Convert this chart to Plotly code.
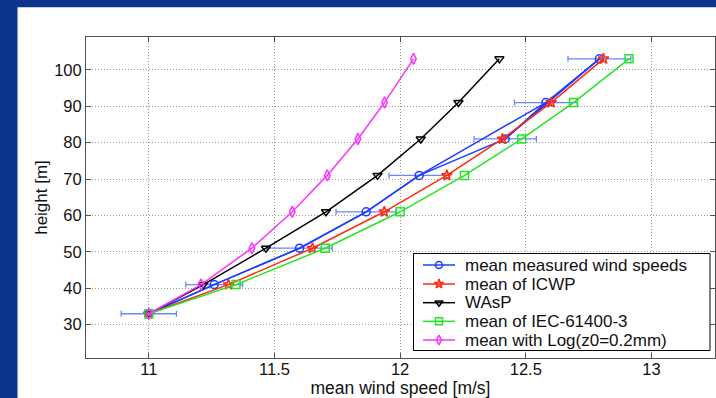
import plotly.graph_objects as go

heights = [33, 41, 51, 61, 71, 81, 91, 103]
measured = [11.00, 11.26, 11.60, 11.865, 12.076, 12.418, 12.58, 12.793]
measured_err = [0.11, 0.113, 0.13, 0.12, 0.12, 0.124, 0.125, 0.125]
# order in which the error-bar series was drawn (its connecting line)
errbar_order = [0, 1, 2, 3, 4, 6, 5, 7]
icwp = [11.00, 11.317, 11.651, 11.937, 12.186, 12.407, 12.601, 12.809]
wasp = [11.00, 11.217, 11.466, 11.705, 11.91, 12.082, 12.232, 12.395]
iec = [11.00, 11.347, 11.702, 12.00, 12.256, 12.484, 12.69, 12.911]
logz0 = [11.00, 11.208, 11.41, 11.571, 11.71, 11.832, 11.938, 12.053]

series_names = ["mean measured wind speeds", "mean of ICWP", "WAsP",
                "mean of IEC-61400-3", "mean with Log(z0=0.2mm)"]

x_ticks = [11, 11.5, 12, 12.5, 13]
x_ticklabels = ["11", "11.5", "12", "12.5", "13"]
y_ticks = [30, 40, 50, 60, 70, 80, 90, 100]

W, H = 716, 398
L, R, T, B = 86, 1, 37, 40
pw, ph = W - L - R, H - T - B

FONT = "Liberation Sans, Arial, sans-serif"
fig = go.Figure()

BLUE = "#1f3dff"
fig.add_trace(go.Scatter(
    x=[measured[i] for i in errbar_order],
    y=[heights[i] for i in errbar_order],
    mode="lines",
    line=dict(color=BLUE, width=1.5),
    error_x=dict(type="data", array=[measured_err[i] for i in errbar_order],
                 color="#6a86ff", thickness=1.3, width=3),
    showlegend=False, hoverinfo="skip"))

styles = [
    (measured, BLUE, "circle-open"),
    (icwp, "#ff2a10", "star-open"),
    (wasp, "#000000", "triangle-down-open"),
    (iec, "#22e622", "square-open"),
    (logz0, "#ff33ff", "diamond-tall-open"),
]
for name, (xs, col, sym) in zip(series_names, styles):
    fig.add_trace(go.Scatter(
        x=xs, y=heights, mode="lines+markers", name=name,
        line=dict(color=col, width=1.5),
        marker=dict(symbol=sym, size=8, color=col, line=dict(color=col, width=1.5)),
        showlegend=False,
    ))

# ---- manual legend on a pixel-coordinate overlay axis ----
lx0, lx1, ly0, ly1 = 413.5, 710, 253.5, 350.5
row_y = [265, 284, 302.7, 321.3, 340]
fig.add_trace(go.Scatter(
    x=[lx0, lx1, lx1, lx0, lx0], y=[ly0, ly0, ly1, ly1, ly0],
    xaxis="x2", yaxis="y2", mode="lines", fill="toself", fillcolor="white",
    line=dict(color="#000000", width=1), showlegend=False, hoverinfo="skip"))
for (xs, col, sym), ry, name in zip(styles, row_y, series_names):
    fig.add_trace(go.Scatter(
        x=[423, 455], y=[ry, ry], xaxis="x2", yaxis="y2", mode="lines",
        line=dict(color=col, width=1.5), showlegend=False, hoverinfo="skip"))
    fig.add_trace(go.Scatter(
        x=[439], y=[ry], xaxis="x2", yaxis="y2", mode="markers",
        marker=dict(symbol=sym, size=7, color=col, line=dict(color=col, width=1.5)),
        showlegend=False, hoverinfo="skip"))
    fig.add_annotation(x=464, y=ry, xref="x2", yref="y2", text=name, showarrow=False,
                       xanchor="left", yanchor="middle", borderpad=0,
                       font=dict(family=FONT, size=17, color="#111111"))

def px2paper_x(px):
    return (px - L) / pw

def px2paper_y(py):
    return (H - B - py) / ph

fig.add_shape(type="rect", xref="paper", yref="paper",
              x0=px2paper_x(17.5), x1=px2paper_x(W + 20),
              y0=px2paper_y(H + 20), y1=px2paper_y(7.3),
              fillcolor="white", line=dict(width=0), layer="below")

axis_common = dict(
    showgrid=True, gridcolor="#9a9a9a", griddash="1px,2px", gridwidth=1,
    showline=True, linecolor="#505050", linewidth=1, mirror="allticks",
    ticks="inside", ticklen=5, tickcolor="#505050", zeroline=False,
    tickfont=dict(family=FONT, size=16.5, color="#111111"),
)

fig.update_layout(
    width=W, height=H,
    margin=dict(l=L, r=R, t=T, b=B, pad=0),
    paper_bgcolor="#0d358f", plot_bgcolor="white",
    font=dict(family=FONT, color="#111111"),
    xaxis=dict(range=[10.75, 13.253], tickvals=x_ticks, ticktext=x_ticklabels,
               title=dict(text="mean wind speed [m/s]", font=dict(family=FONT, size=17.5), standoff=14),
               automargin=False, ticklabelstandoff=-4, **axis_common),
    yaxis=dict(range=[20.85, 109.0], tickvals=y_ticks,
               title=dict(text="height [m]", font=dict(family=FONT, size=17), standoff=2),
               automargin=False, **axis_common),
    xaxis2=dict(overlaying="x", range=[L, W - R], visible=False, fixedrange=True),
    yaxis2=dict(overlaying="y", range=[H - B, T], visible=False, fixedrange=True),
    showlegend=False,
)

fig.write_html("out.html")
